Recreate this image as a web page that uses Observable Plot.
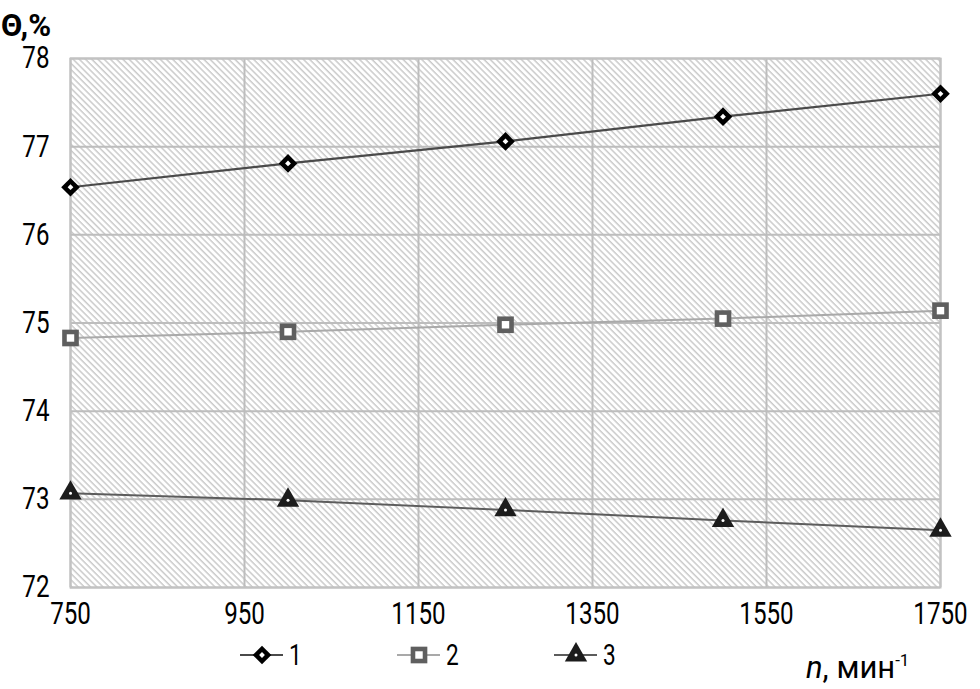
<!DOCTYPE html>
<html><head><meta charset="utf-8">
<script src="https://cdn.jsdelivr.net/npm/d3@7"></script>
<script src="https://cdn.jsdelivr.net/npm/@observablehq/plot@0.6"></script>
<style>
body{margin:0;background:#fff;font-family:Roboto,"Liberation Sans",sans-serif;}
#wrap{position:relative;width:980px;height:689px;overflow:hidden;}
.lab{position:absolute;color:#000;white-space:nowrap;}
</style></head><body><div id="wrap"></div>
<script>
const speeds = [750, 1000, 1250, 1500, 1750];
const series1 = [76.54, 76.81, 77.06, 77.34, 77.60];
const series2 = [74.83, 74.90, 74.98, 75.05, 75.14];
const series3 = [73.07, 72.99, 72.88, 72.76, 72.65];
const seriesNames = ["1", "2", "3"];
const xTicks = [750, 950, 1150, 1350, 1550, 1750];
const yTicks = [72, 73, 74, 75, 76, 77, 78];
const yLabel = "Θ,%";

const FONT = 'Roboto,"Liberation Sans",sans-serif';
const SX = 0.78;
const d1 = speeds.map((n, i) => ({n, v: series1[i]}));
const d2 = speeds.map((n, i) => ({n, v: series2[i]}));
const d3s = speeds.map((n, i) => ({n, v: series3[i]}));

const plot = Plot.plot({
  width: 980, height: 635,
  marginLeft: 70, marginRight: 40, marginTop: 58, marginBottom: 48,
  style: {fontFamily: FONT, fontSize: "31px", color: "#000", background: "transparent", overflow: "visible"},
  x: {domain: [750, 1750], ticks: xTicks, tickSize: 0, tickPadding: 14, label: null, tickFormat: d => String(d)},
  y: {domain: [72, 78], ticks: yTicks, tickSize: 0, tickPadding: 21, label: null, tickFormat: d => String(d)},
  marks: [
    Plot.frame({fill: "url(#hatch)", stroke: "none"}),
    Plot.gridX(xTicks, {stroke: "#bdbdbd", strokeOpacity: 1, strokeWidth: 2}),
    Plot.gridY(yTicks, {stroke: "#bdbdbd", strokeOpacity: 1, strokeWidth: 2}),
    Plot.frame({stroke: "#c2c2c2", strokeWidth: 2}),
    Plot.line(d2, {x: "n", y: "v", stroke: "#a9a9a9", strokeWidth: 2}),
    Plot.line(d3s, {x: "n", y: "v", stroke: "#5c5c5c", strokeWidth: 2}),
    Plot.line(d1, {x: "n", y: "v", stroke: "#4a4a4a", strokeWidth: 2.2}),
    Plot.dot(d1, {x: "n", y: "v", symbol: "diamond2", r: 8.4, fill: "#000", stroke: "none"}),
    Plot.dot(d1, {x: "n", y: "v", symbol: "diamond2", r: 2.6, fill: "#fff", stroke: "none"}),
    Plot.dot(d2, {x: "n", y: "v", symbol: "square", r: 9.4, fill: "#5f5f5f", stroke: "none"}),
    Plot.dot(d2, {x: "n", y: "v", symbol: "square", r: 4.2, fill: "#fff", stroke: "none"}),
    Plot.dot(d3s, {x: "n", y: "v", symbol: "triangle", r: 8.3, fill: "#1c1c1c", stroke: "none"}),
    Plot.dot(d3s, {x: "n", y: "v", symbol: "circle", r: 1.5, fill: "#fff", stroke: "none"})
  ]
});

const svg = d3.select(plot);
// condense tick labels horizontally
svg.selectAll('g[aria-label="x-axis tick label"] text, g[aria-label="y-axis tick label"] text').each(function () {
  const t = this.getAttribute("transform");
  if (this.hasAttribute("x")) this.setAttribute("x", (+this.getAttribute("x")) / SX);
  this.setAttribute("transform", (t ? t + " " : "") + `scale(${SX},1)`);
});

// hatch pattern definition
const defs = svg.insert("defs", ":first-child");
const pat = defs.append("pattern").attr("id", "hatch").attr("patternUnits", "userSpaceOnUse")
  .attr("width", 4.4).attr("height", 10).attr("patternTransform", "rotate(-45)");
pat.append("rect").attr("width", 4.4).attr("height", 10).attr("fill", "#ffffff");
pat.append("line").attr("x1", 1).attr("x2", 1).attr("y1", 0).attr("y2", 10)
  .attr("stroke", "#c3c3c3").attr("stroke-width", 1.3);

const wrap = document.getElementById("wrap");
wrap.appendChild(plot);

// y-axis title
const yl = document.createElement("div");
yl.className = "lab";
yl.style.cssText += "left:1px;top:15px;font-size:31px;line-height:22px;font-weight:bold;";
yl.textContent = yLabel;
wrap.appendChild(yl);

// legend
const legendX = [262, 419, 576];
const legendY = 655;
const lsvg = d3.select(wrap).append("svg").attr("width", 980).attr("height", 54)
  .style("position", "absolute").style("left", "0px").style("top", "626px");
const ly = legendY - 626;
const styles = [
  {line: "#4a4a4a", sym: d3.symbolDiamond2, size: Math.PI * 8.4 * 8.4, fill: "#000", inner: d3.symbolDiamond2, isize: Math.PI * 2.6 * 2.6},
  {line: "#a9a9a9", sym: d3.symbolSquare, size: Math.PI * 9.4 * 9.4, fill: "#5f5f5f", inner: d3.symbolSquare, isize: Math.PI * 4.2 * 4.2},
  {line: "#5c5c5c", sym: d3.symbolTriangle, size: Math.PI * 8.3 * 8.3, fill: "#1c1c1c", inner: d3.symbolCircle, isize: Math.PI * 1.5 * 1.5}
];
seriesNames.forEach((name, i) => {
  const cx = legendX[i], s = styles[i];
  lsvg.append("line").attr("x1", cx - 22).attr("x2", cx + 21).attr("y1", ly).attr("y2", ly)
    .attr("stroke", s.line).attr("stroke-width", 2);
  lsvg.append("path").attr("d", d3.symbol(s.sym, s.size)()).attr("transform", `translate(${cx},${ly})`).attr("fill", s.fill);
  lsvg.append("path").attr("d", d3.symbol(s.inner, s.isize)()).attr("transform", `translate(${cx},${ly})`).attr("fill", "#fff");
  lsvg.append("text").attr("transform", `translate(${cx + 27},${ly}) scale(${SX},1)`).attr("dy", "0.36em")
    .attr("font-family", FONT).attr("font-size", 29).text(name);
});

// x-axis title
const xl = document.createElement("div");
xl.className = "lab";
xl.style.cssText += "left:806px;top:645px;font-size:31px;line-height:31px;";
xl.innerHTML = '<i>n</i>, мин<sup style="font-size:17px;vertical-align:12px">-1</sup>';
wrap.appendChild(xl);
</script>
</body></html>
